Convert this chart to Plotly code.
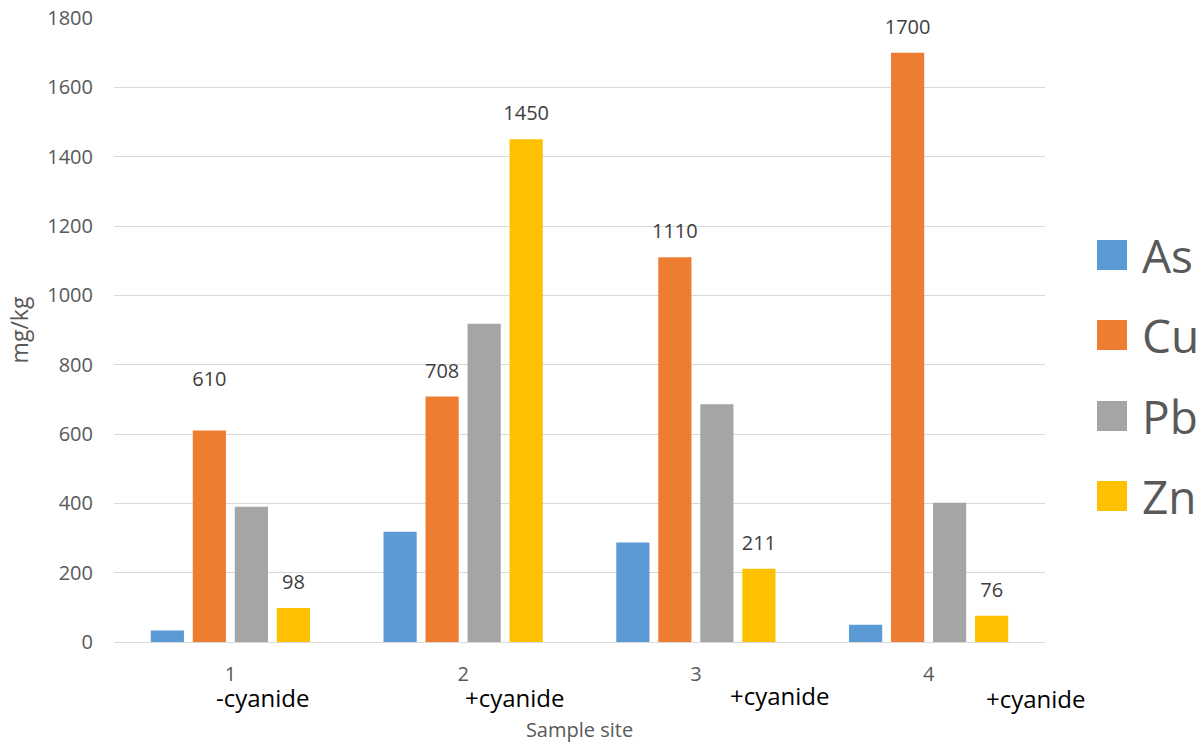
import plotly.graph_objects as go

# ---- data ----
sites = [1, 2, 3, 4]
site_labels = ["1", "2", "3", "4"]
cyanide_labels = ["-cyanide", "+cyanide", "+cyanide", "+cyanide"]
series_names = ["As", "Cu", "Pb", "Zn"]
as_vals = [33, 318, 287, 50]
cu_vals = [610, 708, 1110, 1700]
pb_vals = [390, 918, 686, 402]
zn_vals = [98, 1450, 211, 76]
labelled = [False, True, False, True]
colors = ["#5B9BD5", "#ED7D31", "#A5A5A5", "#FFC000"]
y_ticks = [0, 200, 400, 600, 800, 1000, 1200, 1400, 1600, 1800]

FONT = "Open Sans"
GRAY = "#595959"

W, H = 1196, 743
L, R, T, B = 114, 151, 18, 101
pw = W - L - R
ph = H - T - B

def px_to_paper_x(px):
    return (px - L) / pw

def px_to_paper_y(py):
    return (H - B - py) / ph

LABEL = '<span style="font-size:20px">%{text}</span>'

fig = go.Figure()
all_vals = [as_vals, cu_vals, pb_vals, zn_vals]
for name, vals, col, lab in zip(series_names, all_vals, colors, labelled):
    if lab:
        # one spacer line lifts the label off the bar; the first Cu label sits higher
        templates = [LABEL + "<br> " for _ in vals]
        if name == "Cu":
            templates[0] = LABEL + "<br> <br> <br> "
        fig.add_trace(go.Bar(
            x=sites, y=vals, name=name, marker_color=col, marker_line_width=0,
            text=[str(v) for v in vals], texttemplate=templates,
            textposition="outside", constraintext="none",
            textfont=dict(family=FONT, size=10, color="#404040"),
            cliponaxis=False, showlegend=False,
        ))
    else:
        fig.add_trace(go.Bar(
            x=sites, y=vals, name=name, marker_color=col, marker_line_width=0,
            textposition="none", showlegend=False,
        ))

# cyanide annotations under the tick labels
cy_x = [1.14, 2.223, 3.361, 4.461]
cy_py = [698, 698, 695, 699]
for lab, xv, py in zip(cyanide_labels, cy_x, cy_py):
    fig.add_annotation(x=xv, xref="x", y=px_to_paper_y(py), yref="paper",
                       text=lab, showarrow=False, xanchor="center", yanchor="middle",
                       font=dict(family=FONT, size=24, color="#000000"))

# manual legend with large swatches
leg_py = [255, 335, 416, 496]
for name, col, py in zip(series_names, colors, leg_py):
    fig.add_shape(type="rect", xref="paper", yref="paper",
                  x0=px_to_paper_x(1097), x1=px_to_paper_x(1127),
                  y0=px_to_paper_y(py + 15), y1=px_to_paper_y(py - 15),
                  fillcolor=col, line_width=0)
    fig.add_annotation(x=px_to_paper_x(1140), xref="paper", y=px_to_paper_y(py), yref="paper",
                       text=name, showarrow=False, xanchor="left", yanchor="middle",
                       font=dict(family=FONT, size=46, color=GRAY))

fig.update_layout(
    width=W, height=H,
    margin=dict(l=L, r=R, t=T, b=B, autoexpand=False),
    paper_bgcolor="white", plot_bgcolor="white",
    barmode="group", bargap=0.278, bargroupgap=0.21,
    font=dict(family=FONT, size=20, color=GRAY),
    xaxis=dict(
        range=[0.5, 4.5], tickvals=sites, ticktext=site_labels,
        showgrid=False, zeroline=False, showline=False,
        ticks="", ticklabelstandoff=18,
        tickfont=dict(family=FONT, size=20, color=GRAY),
        title=dict(text="Sample site", standoff=42,
                   font=dict(family=FONT, size=20, color=GRAY)),
    ),
    yaxis=dict(
        range=[0, 1800], tickvals=y_ticks,
        showgrid=True, gridcolor="#D9D9D9", gridwidth=1.3,
        zeroline=True, zerolinecolor="#D9D9D9", zerolinewidth=1.3,
        showline=False, ticks="", ticklabelstandoff=20,
        tickfont=dict(family=FONT, size=20, color=GRAY),
        title=dict(text="mg/kg", standoff=12,
                   font=dict(family=FONT, size=23, color=GRAY)),
    ),
)

fig.write_html("out.html", config={"displayModeBar": False},
               post_script="document.body.style.margin='0';")
